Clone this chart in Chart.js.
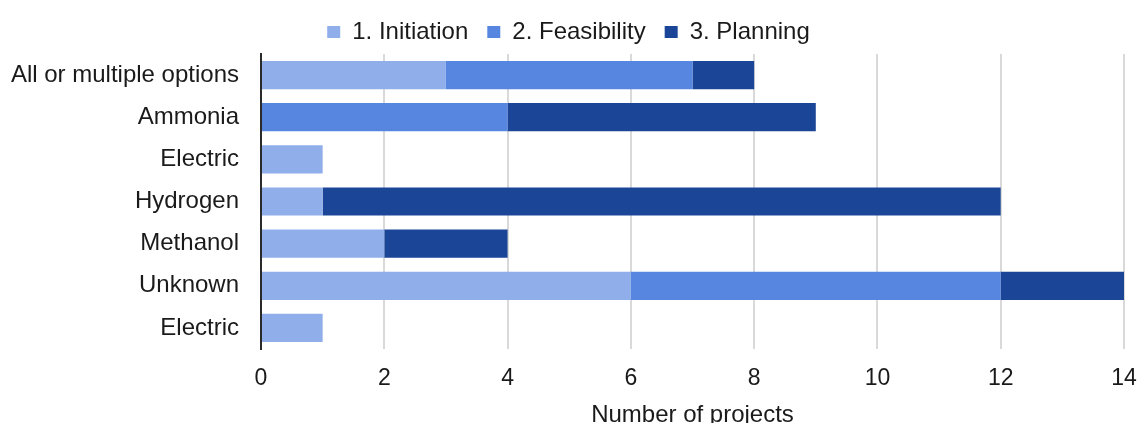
<!DOCTYPE html>
<html>
<head>
<meta charset="utf-8">
<script src="https://cdn.jsdelivr.net/npm/chart.js@4/dist/chart.umd.min.js"></script>
<style>
html,body{margin:0;padding:0;background:#fff;overflow:hidden;}
#wrap{position:relative;width:1141px;height:430px;}
</style>
</head>
<body>
<div id="wrap"><canvas id="c"></canvas></div>
<script>
const categories = ["All or multiple options","Ammonia","Electric","Hydrogen","Methanol","Unknown","Electric"];
const initiation = [3,0,1,1,2,6,1];
const feasibility = [4,4,0,0,0,6,0];
const planning = [1,5,0,11,2,2,0];
const seriesNames = ["1. Initiation","2. Feasibility","3. Planning"];
const xTicks = [0,2,4,6,8,10,12,14];

Chart.defaults.font.family = "'Liberation Sans', Arial, sans-serif";
Chart.defaults.color = "#1a1a1a";

new Chart(document.getElementById('c'), {
  type: 'bar',
  data: {
    labels: categories,
    datasets: [
      {label: seriesNames[0], data: initiation, backgroundColor: '#8FAEEA'},
      {label: seriesNames[1], data: feasibility, backgroundColor: '#5686E0'},
      {label: seriesNames[2], data: planning, backgroundColor: '#1B4597'}
    ]
  },
  options: {
    indexAxis: 'y',
    responsive: true,
    maintainAspectRatio: false,
    animation: false,
    datasets: {bar: {barPercentage: 0.67, categoryPercentage: 1}},
    layout: {padding: {left: 0, right: 4, top: 1, bottom: 0}},
    plugins: {
      legend: {
        position: 'top',
        labels: {boxWidth: 13, boxHeight: 12, padding: 19, font: {size: 24}, color: '#1a1a1a'}
      },
      tooltip: {enabled: false}
    },
    scales: {
      x: {
        stacked: true,
        min: 0, max: 14,
        afterBuildTicks: (s) => { s.ticks = xTicks.map(v => ({value: v})); },
        afterFit: (s) => { s.height = 81; s.paddingRight = 17; s.paddingLeft = 0; },
        grid: {color: '#D9D9D9', lineWidth: 2, drawTicks: false},
        border: {display: false},
        ticks: {font: {size: 23}, color: '#1a1a1a', padding: 16},
        title: {display: true, text: 'Number of projects', font: {size: 24}, color: '#1a1a1a', padding: {top: 8, bottom: 0}}
      },
      y: {
        stacked: true,
        afterFit: (s) => { s.width = 261; },
        grid: {display: false, drawTicks: false},
        border: {display: true, color: '#2a2a2a', width: 2},
        ticks: {font: {size: 24}, color: '#1a1a1a', padding: 22}
      }
    }
  }
});
</script>
</body>
</html>
